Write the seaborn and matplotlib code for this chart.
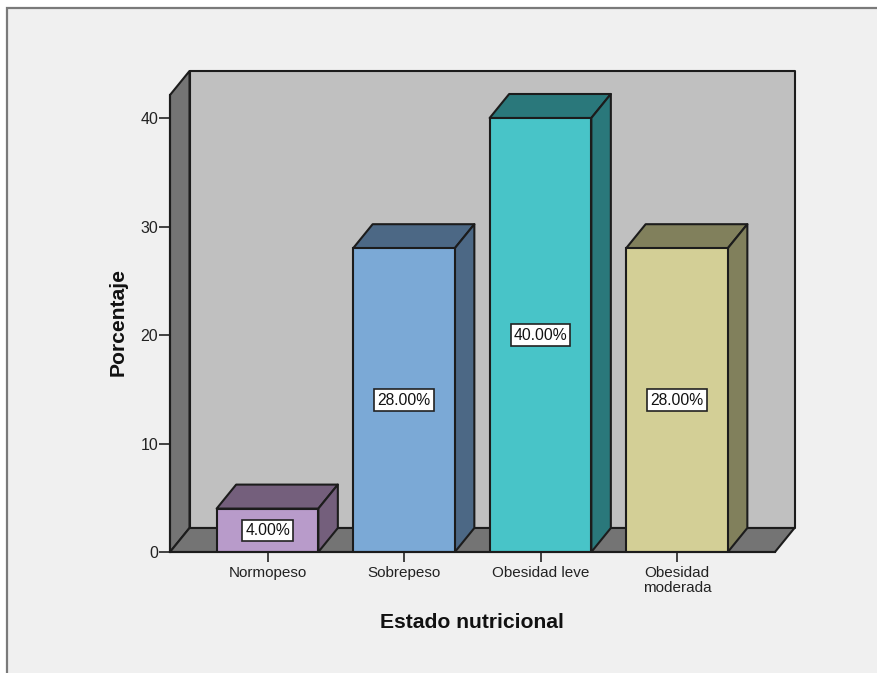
import matplotlib
matplotlib.use("Agg")
import matplotlib.pyplot as plt
from matplotlib.patches import Polygon, Rectangle
import pandas as pd
import seaborn as sns

categories = ["Normopeso", "Sobrepeso", "Obesidad leve", "Obesidad\nmoderada"]
values = [4, 28, 40, 28]
labels = ["4.00%", "28.00%", "40.00%", "28.00%"]
front_colors = ["#b89bca", "#7ba9d6", "#48c4c8", "#d3cf96"]
top_colors = ["#745f7c", "#4c6885", "#2a787b", "#81805c"]
side_colors = ["#745f7c", "#4c6885", "#2a787b", "#81805c"]
y_ticks = [0, 10, 20, 30, 40]

W, H = 877, 673
sns.set_theme(style="white")
plt.rcParams["font.family"] = ["Liberation Sans", "DejaVu Sans"]

fig = plt.figure(figsize=(W / 100, H / 100), dpi=100, facecolor="white")
fig.add_artist(Rectangle((7 / W, -0.1), 1.1, 1.1 - 8 / H, transform=fig.transFigure,
                         facecolor="#f0f0f0", edgecolor="#7a7a7a", linewidth=1.6, zorder=-5))

left, right, bottom, top = 170, 775, 552, 95
ax = fig.add_axes([left / W, 1 - bottom / H, (right - left) / W, (bottom - top) / H])
ax.set_facecolor("none")
df = pd.DataFrame({"cat": categories, "val": values})

px_x, px_y = 136.5, 10.85
ax.set_xlim((left - 267.5) / px_x, (right - 267.5) / px_x)
ax.set_ylim(0, (bottom - top) / px_y)
dx, dy = 19.5 / px_x, 24 / px_y
x0, x1 = ax.get_xlim()
y1 = ax.get_ylim()[1]
bw = 0.745
line = "#1c1c1c"
lw = 1.5


def poly(pts, fc, z):
    ax.add_patch(Polygon(pts, closed=True, facecolor=fc, edgecolor=line, linewidth=lw,
                         zorder=z, clip_on=False, joinstyle="round"))


# walls
poly([(x0 + dx, dy), (x1 + dx, dy), (x1 + dx, y1 + dy), (x0 + dx, y1 + dy)], "#c0c0c0", 0.5)
poly([(x0, 0), (x0 + dx, dy), (x0 + dx, y1 + dy), (x0, y1)], "#747474", 0.6)
poly([(x0, 0), (x1, 0), (x1 + dx, dy), (x0 + dx, dy)], "#747474", 0.6)

sns.barplot(data=df, x="cat", y="val", hue="cat", palette=front_colors, legend=False,
            width=bw, edgecolor=line, linewidth=lw, saturation=1, ax=ax, zorder=3)
ax.set_xlim(x0, x1)
ax.set_ylim(0, y1)

for i, v in enumerate(values):
    a, b = i - bw / 2, i + bw / 2
    poly([(a, v), (b, v), (b + dx, v + dy), (a + dx, v + dy)], top_colors[i], 2.5)
    poly([(b, 0), (b + dx, dy), (b + dx, v + dy), (b, v)], side_colors[i], 2.5)
    ax.text(i, v / 2, labels[i], ha="center", va="center", fontsize=11.3, color="#111111", zorder=5,
            bbox=dict(boxstyle="square,pad=0.2", facecolor="white", edgecolor="#222222", linewidth=1.2))

for s in ("top", "right"):
    ax.spines[s].set_visible(False)
for s in ("left", "bottom"):
    ax.spines[s].set_color(line)
    ax.spines[s].set_linewidth(lw)
    ax.spines[s].set_zorder(4)

ax.set_yticks(y_ticks)
ax.set_xticks(range(len(categories)))
ax.set_xticklabels(categories, linespacing=1.1)
ax.tick_params(axis="y", length=8, width=1.3, color="#333333", labelsize=11.5, labelcolor="#222222", pad=0.5, left=True)
ax.tick_params(axis="x", length=7, width=1.3, color="#333333", labelsize=11, labelcolor="#222222", pad=3, bottom=True)
ax.set_xlabel("")
ax.set_ylabel("")

fig.text(472 / W, 1 - 622 / H, "Estado nutricional", ha="center", va="center",
         fontsize=15.2, fontweight="bold", color="#111111")
fig.text(118 / W, 1 - 322 / H, "Porcentaje", rotation=90, ha="center", va="center",
         fontsize=15.2, fontweight="bold", color="#111111")

fig.savefig("out.png", dpi=100, facecolor=fig.get_facecolor())
